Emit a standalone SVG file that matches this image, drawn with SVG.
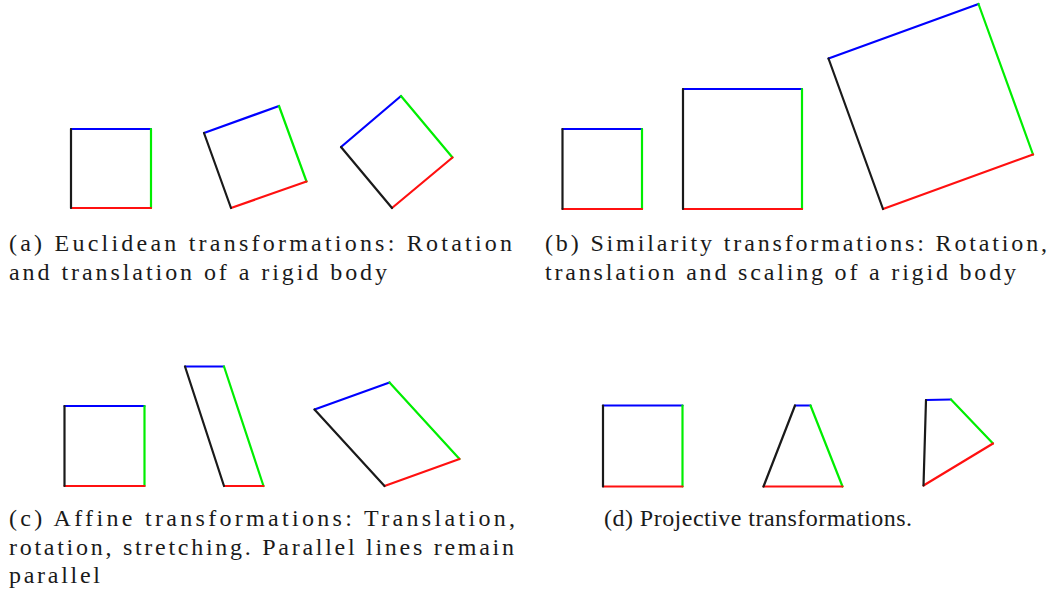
<svg xmlns="http://www.w3.org/2000/svg" width="1054" height="608" viewBox="0 0 1054 608">
<style>
line{stroke-width:2.2;stroke-linecap:round;fill:none}
.t{stroke:#0000ff}.r{stroke:#00ee00}.b{stroke:#ff1010}.l{stroke:#1a1a1a}
text{font-family:"Liberation Serif","DejaVu Serif",serif;font-size:24px;fill:#1a1a1a}
</style>
<rect width="1054" height="608" fill="#fff"/>
<g id="panel-a">
 <g id="a1"><line class="t" x1="71" y1="129" x2="151" y2="129"/><line class="r" x1="151" y1="129" x2="151" y2="208"/><line class="b" x1="151" y1="208" x2="71" y2="208"/><line class="l" x1="71" y1="208" x2="71" y2="129"/></g>
 <g id="a2"><line class="t" x1="204" y1="133" x2="279" y2="106"/><line class="r" x1="279" y1="106" x2="306.5" y2="181.5"/><line class="b" x1="306.5" y1="181.5" x2="231" y2="208"/><line class="l" x1="231" y1="208" x2="204" y2="133"/></g>
 <g id="a3"><line class="t" x1="341" y1="147" x2="401" y2="96"/><line class="r" x1="401" y1="96" x2="452.5" y2="157.5"/><line class="b" x1="452.5" y1="157.5" x2="392" y2="208"/><line class="l" x1="392" y1="208" x2="341" y2="147"/></g>
 <text x="9" y="251" textLength="503" lengthAdjust="spacing">(a) Euclidean transformations: Rotation</text>
 <text x="9" y="280" textLength="378" lengthAdjust="spacing">and translation of a rigid body</text>
</g>
<g id="panel-b">
 <g id="b1"><line class="t" x1="562.5" y1="129" x2="642" y2="129"/><line class="r" x1="642" y1="129" x2="642" y2="209"/><line class="b" x1="642" y1="209" x2="562.5" y2="209"/><line class="l" x1="562.5" y1="209" x2="562.5" y2="129"/></g>
 <g id="b2"><line class="t" x1="683" y1="89" x2="802" y2="89"/><line class="r" x1="802" y1="89" x2="802" y2="209"/><line class="b" x1="802" y1="209" x2="683" y2="209"/><line class="l" x1="683" y1="209" x2="683" y2="89"/></g>
 <g id="b3"><line class="t" x1="828.5" y1="58.5" x2="978.5" y2="4"/><line class="r" x1="978.5" y1="4" x2="1033" y2="154.5"/><line class="b" x1="1033" y1="154.5" x2="883" y2="209"/><line class="l" x1="883" y1="209" x2="828.5" y2="58.5"/></g>
 <text x="545" y="251" textLength="502" lengthAdjust="spacing">(b) Similarity transformations: Rotation,</text>
 <text x="545" y="280" textLength="471" lengthAdjust="spacing">translation and scaling of a rigid body</text>
</g>
<g id="panel-c">
 <g id="c1"><line class="t" x1="64.5" y1="406" x2="144.5" y2="406"/><line class="r" x1="144.5" y1="406" x2="144.5" y2="486"/><line class="b" x1="144.5" y1="486" x2="64.5" y2="486"/><line class="l" x1="64.5" y1="486" x2="64.5" y2="406"/></g>
 <g id="c2"><line class="t" x1="185" y1="366.5" x2="224" y2="366.5"/><line class="r" x1="224" y1="366.5" x2="263.5" y2="486"/><line class="b" x1="263.5" y1="486" x2="224" y2="486"/><line class="l" x1="224" y1="486" x2="185" y2="366.5"/></g>
 <g id="c3"><line class="t" x1="314.5" y1="409.5" x2="389.5" y2="382.5"/><line class="r" x1="389.5" y1="382.5" x2="459.5" y2="459"/><line class="b" x1="459.5" y1="459" x2="384.5" y2="486"/><line class="l" x1="384.5" y1="486" x2="314.5" y2="409.5"/></g>
 <text x="9" y="526" textLength="506" lengthAdjust="spacing">(c) Affine transformations: Translation,</text>
 <text x="9" y="555" textLength="505" lengthAdjust="spacing">rotation, stretching. Parallel lines remain</text>
 <text x="9" y="583" textLength="91" lengthAdjust="spacing">parallel</text>
</g>
<g id="panel-d">
 <g id="d1"><line class="t" x1="603" y1="405.5" x2="682.5" y2="405.5"/><line class="r" x1="682.5" y1="405.5" x2="682.5" y2="486.5"/><line class="b" x1="682.5" y1="486.5" x2="603" y2="486.5"/><line class="l" x1="603" y1="486.5" x2="603" y2="405.5"/></g>
 <g id="d2"><line class="t" x1="795" y1="405.5" x2="810.5" y2="405.5"/><line class="r" x1="810.5" y1="405.5" x2="842.5" y2="486.5"/><line class="b" x1="842.5" y1="486.5" x2="763.5" y2="486.5"/><line class="l" x1="763.5" y1="486.5" x2="795" y2="405.5"/></g>
 <g id="d3"><line class="t" x1="926" y1="400" x2="951" y2="399.5"/><line class="r" x1="951" y1="399.5" x2="993" y2="443.5"/><line class="b" x1="993" y1="443.5" x2="923.5" y2="485.5"/><line class="l" x1="923.5" y1="485.5" x2="926" y2="400"/></g>
 <text x="604" y="526" textLength="308" lengthAdjust="spacing">(d) Projective transformations.</text>
</g>
</svg>
